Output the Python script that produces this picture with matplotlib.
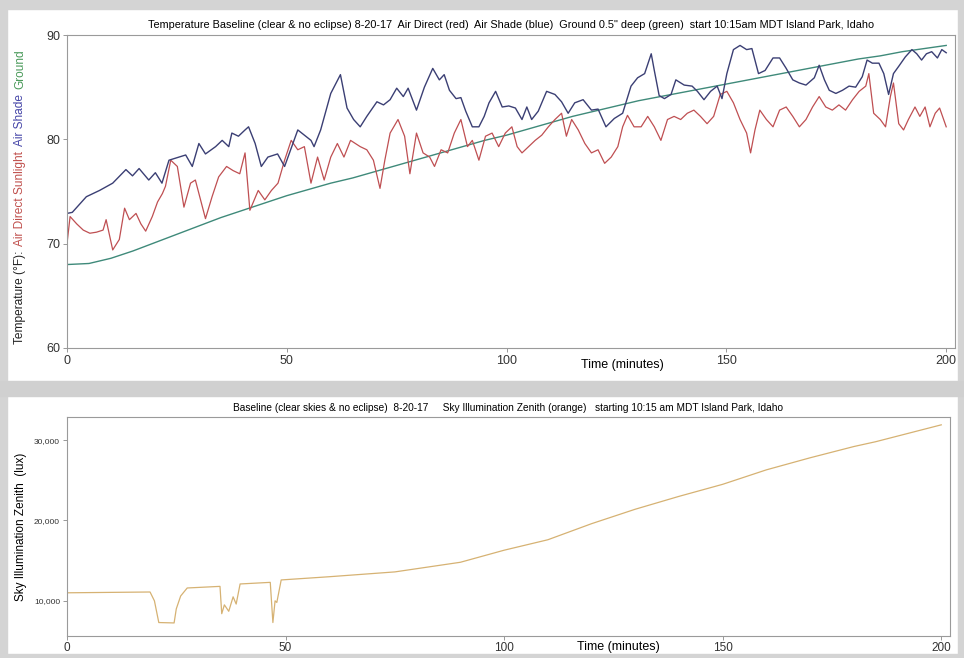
import matplotlib
matplotlib.use("Agg")
import matplotlib.pyplot as plt
from matplotlib.patches import Rectangle

plt.rcParams['font.family'] = ['Liberation Sans', 'DejaVu Sans']

# Air shade (blue)
t_shade = [0, 1.2, 4.4, 7.4, 10.4, 13.4, 14.9, 16.4, 18.6, 20.1, 21.6, 23.2, 25.5, 27, 28.5, 30, 31.5,
           33.8, 35.3, 36.8, 37.5, 39, 40.5, 41.3, 42.8, 44.2, 45.7, 47.9, 49.5, 52.5, 55.5, 56.2, 57.7,
           60, 62.2, 63.7, 65.2, 66.7, 68.2, 70.5, 72, 73.5, 75, 76.5, 77.6, 79.5, 81.3, 83.2, 84.7,
           85.8, 87, 88.5, 89.6, 90.7, 92.2, 93.7, 94.9, 96, 97.5, 99, 100.5, 102, 103.5, 104.6, 105.7,
           107.2, 109.1, 111, 112.5, 114, 115.5, 117.4, 119.3, 120.8, 122.6, 124.5, 126.4, 128.3, 129.8,
           131.4, 132.9, 133.6, 134.7, 135.9, 137.4, 138.5, 140.4, 142.2, 143.4, 144.9, 146.4, 147.9,
           149, 150.1, 151.6, 153.1, 154.6, 155.8, 157.3, 158.8, 160.6, 162.1, 163.6, 165.1, 166.6,
           168.1, 170, 171.1, 172.3, 173.4, 174.9, 176.4, 177.9, 179.4, 180.9, 182, 183.2, 184.7, 185.8,
           186.9, 188, 189.2, 190.7, 192.2, 193.3, 194.4, 195.5, 196.7, 198, 199, 200]
air_shade = [72.9, 73.0, 74.5, 75.1, 75.8, 77.1, 76.5, 77.2, 76.1, 76.8, 75.8, 78.0, 78.3, 78.5, 77.4,
             79.6, 78.6, 79.3, 79.9, 79.3, 80.6, 80.3, 80.9, 81.2, 79.6, 77.4, 78.3, 78.6, 77.4, 80.9,
             79.9, 79.3, 80.9, 84.4, 86.2, 83.0, 81.9, 81.2, 82.2, 83.6, 83.3, 83.8, 84.9, 84.1, 84.9,
             82.8, 85.0, 86.8, 85.7, 86.2, 84.7, 83.9, 84.0, 82.7, 81.2, 81.2, 82.2, 83.5, 84.6, 83.1,
             83.2, 83.0, 81.9, 83.1, 81.9, 82.7, 84.6, 84.3, 83.6, 82.5, 83.5, 83.8, 82.8, 82.9, 81.2,
             82.0, 82.5, 85.1, 85.9, 86.3, 88.2, 86.6, 84.2, 83.9, 84.3, 85.7, 85.2, 85.1, 84.6, 83.8,
             84.6, 85.1, 83.9, 86.3, 88.6, 89.0, 88.6, 88.7, 86.3, 86.6, 87.8, 87.8, 86.8, 85.7, 85.4,
             85.2, 85.9, 87.1, 85.7, 84.7, 84.4, 84.7, 85.1, 85.0, 86.0, 87.6, 87.3, 87.3, 86.3, 84.3,
             86.3, 87.0, 87.9, 88.6, 88.2, 87.6, 88.2, 88.4, 87.8, 88.6, 88.3]

# Air direct sunlight (red)
t_direct = [0, 0.7, 2.2, 3.7, 5.2, 6.7, 8.2, 8.9, 10.4, 11.9, 13.1, 14.2, 15.7, 16.8, 17.9, 19.4, 20.6,
            21.7, 22.4, 23.6, 25.1, 26.6, 28.1, 29.2, 31.5, 33, 34.5, 36.3, 37.8, 39.3, 40.5, 41.6, 43.5,
            45, 46.5, 48, 49.5, 51, 52.5, 54, 55.5, 57, 58.5, 60, 61.5, 63, 64.5, 66.7, 68.2, 69.7, 71.2,
            72.3, 73.5, 75.3, 76.8, 78, 79.5, 81, 82.5, 83.6, 85.1, 86.6, 88.1, 89.6, 91.1, 92.2, 93.7,
            95.2, 96.7, 98.2, 99.7, 101.2, 102.4, 103.5, 105, 106.5, 108, 109.5, 111, 112.5, 113.6,
            114.8, 116.3, 117.8, 119.3, 120.8, 122.3, 123.8, 125.3, 126.4, 127.5, 129, 130.6, 132.1,
            133.6, 135.1, 136.6, 138.1, 139.6, 141.1, 142.6, 144.1, 145.6, 147.1, 148.6, 150.1, 151.6,
            153.1, 154.6, 155.5, 156.5, 157.6, 159.1, 160.6, 162.1, 163.6, 165.1, 166.6, 168.1, 169.6,
            171.1, 172.6, 174.1, 175.6, 177.1, 178.7, 180.2, 181.7, 182.4, 183.5, 185, 186.2, 187.3,
            188, 189.2, 190.3, 191.4, 192.9, 194, 195.2, 196.3, 197.5, 198.5, 200]
air_direct = [70.0, 72.6, 71.9, 71.3, 71.0, 71.1, 71.3, 72.3, 69.4, 70.4, 73.4, 72.3, 72.9, 71.9, 71.2,
              72.6, 74.0, 74.8, 75.5, 78.0, 77.4, 73.5, 75.8, 76.1, 72.4, 74.5, 76.4, 77.4, 77.0, 76.7,
              78.7, 73.2, 75.1, 74.2, 75.1, 75.8, 78.0, 79.9, 79.0, 79.3, 75.8, 78.3, 76.1, 78.3, 79.6,
              78.3, 79.9, 79.3, 79.0, 78.0, 75.3, 78.0, 80.6, 81.9, 80.3, 76.7, 80.6, 78.7, 78.3, 77.4,
              79.0, 78.7, 80.6, 81.9, 79.3, 79.9, 78.0, 80.3, 80.6, 79.3, 80.6, 81.2, 79.3, 78.7, 79.3,
              79.9, 80.4, 81.2, 81.9, 82.5, 80.3, 81.9, 80.9, 79.6, 78.7, 79.0, 77.7, 78.3, 79.3, 81.2,
              82.3, 81.2, 81.2, 82.2, 81.2, 79.9, 81.9, 82.2, 81.9, 82.5, 82.8, 82.2, 81.5, 82.2, 84.3,
              84.6, 83.5, 81.9, 80.6, 78.7, 80.9, 82.8, 81.9, 81.2, 82.8, 83.1, 82.2, 81.2, 81.9, 83.1,
              84.1, 83.1, 82.8, 83.3, 82.8, 83.8, 84.6, 85.1, 86.3, 82.5, 81.9, 81.2, 84.1, 85.4, 81.5,
              80.9, 81.9, 83.1, 82.2, 83.1, 81.2, 82.5, 83.0, 81.2]

# Ground 0.5" deep (green)
t_ground = [0, 5, 10, 15, 20, 25, 30, 35, 40, 45, 50, 55, 60, 65, 70, 75, 80, 85, 90, 95, 100, 105,
            110, 115, 120, 125, 130, 135, 140, 145, 150, 155, 160, 165, 170, 175, 180, 185, 190, 195, 200]
ground = [68.0, 68.1, 68.6, 69.3, 70.1, 70.9, 71.7, 72.5, 73.2, 73.9, 74.6, 75.2, 75.8, 76.3, 76.9,
          77.5, 78.1, 78.7, 79.3, 79.9, 80.4, 81.0, 81.6, 82.2, 82.7, 83.2, 83.7, 84.1, 84.5, 84.9,
          85.3, 85.7, 86.1, 86.5, 86.9, 87.3, 87.7, 88.0, 88.4, 88.7, 89.0]

# Sky illumination zenith (orange)
t_sky = [0, 19, 20, 21, 24.5, 25, 26, 27.5, 35, 35.4, 36, 37, 38, 38.7, 39.6, 46.5, 47.1, 47.6, 48,
         49, 60, 75, 90, 100, 110, 120, 130, 140, 150, 160, 170, 180, 185, 190, 195, 200]
sky_lux = [11000, 11100, 10000, 7300, 7250, 9000, 10600, 11600, 11800, 8400, 9500, 8700, 10500, 9600,
           12100, 12300, 7300, 10000, 9800, 12600, 13000, 13600, 14800, 16300, 17600, 19600, 21400,
           23000, 24500, 26300, 27800, 29200, 29800, 30500, 31200, 31900]

W, H = 964, 658
fig = plt.figure(figsize=(9.64, 6.58), dpi=100)


# grey screenshot frame around the two panels
def px_rect(x0, y0, x1, y1, color):
    fig.patches.append(Rectangle((x0 / W, 1 - y1 / H), (x1 - x0) / W, (y1 - y0) / H,
                                 transform=fig.transFigure, color=color, zorder=-5))


px_rect(0, 0, W, 9, '#d4d4d4')
px_rect(0, 0, 7, H, '#d4d4d4')
px_rect(958, 0, W, H, '#d4d4d4')
px_rect(0, 381, W, 396, '#d0d0d0')
px_rect(0, 654, W, H, '#d4d4d4')

ax1 = fig.add_axes([67 / W, 1 - 348 / H, 888 / W, 313 / H])
ax2 = fig.add_axes([67 / W, 1 - 636 / H, 883 / W, 219 / H])

ax1.plot(t_ground, ground, color='#3f8a7a', lw=1.0)
ax1.plot(t_direct, air_direct, color='#bf4f52', lw=0.9)
ax1.plot(t_shade, air_shade, color='#3b3f74', lw=1.0)
ax1.set_xlim(0, 202)
ax1.set_ylim(60, 90)
ax1.set_xticks([0, 50, 100, 150, 200])
ax1.set_yticks([60, 70, 80, 90])
ax1.set_xlabel('Time (minutes)', fontsize=9)
ax1.xaxis.set_label_coords(0.625, -0.035)
ax1.set_title('Temperature Baseline (clear & no eclipse) 8-20-17  Air Direct (red)  Air Shade (blue)  '
              'Ground 0.5" deep (green)  start 10:15am MDT Island Park, Idaho', fontsize=7.8, pad=5)

ax2.plot(t_sky, sky_lux, color='#d6b273', lw=0.9)
ax2.set_xlim(0, 202)
ax2.set_ylim(5625, 32875)
ax2.set_xticks([0, 50, 100, 150, 200])
ax2.set_yticks([10000, 20000, 30000])
ax2.set_yticklabels(['10,000', '20,000', '30,000'])
ax2.set_xlabel('Time (minutes)', fontsize=9)
ax2.xaxis.set_label_coords(0.625, -0.025)
ax2.set_ylabel('Sky Illumination Zenith  (lux)', fontsize=8.5, labelpad=5)
ax2.set_title('Baseline (clear skies & no eclipse)  8-20-17     Sky Illumination Zenith (orange)   '
              'starting 10:15 am MDT Island Park, Idaho', fontsize=7.3, pad=4)

for ax in (ax1, ax2):
    for s in ax.spines.values():
        s.set_color('#9a9a9a')
        s.set_linewidth(0.8)
    ax.tick_params(length=3, width=0.6, color='#888888', labelsize=9, pad=2, labelcolor='#333333')
ax2.tick_params(axis='x', pad=1, labelsize=8.5)
ax2.tick_params(axis='y', labelsize=6)

# multi-coloured y label of the top panel, stacked from the bottom up
ylab_text = ['Temperature (\u00b0F):', 'Air Direct Sunlight', 'Air Shade', 'Ground']
ylab_color = ['#222222', '#c0504d', '#4646a8', '#4a9a5a']
renderer = fig.canvas.get_renderer()
y_cur = 1 - 344 / H
for txt, col in zip(ylab_text, ylab_color):
    t = fig.text(20 / W, y_cur, txt, color=col, rotation=90, fontsize=8.6,
                 ha='center', va='bottom')
    bb = t.get_window_extent(renderer)
    y_cur += bb.height / (H) + 5 / H

fig.savefig('out.png', dpi=100)
